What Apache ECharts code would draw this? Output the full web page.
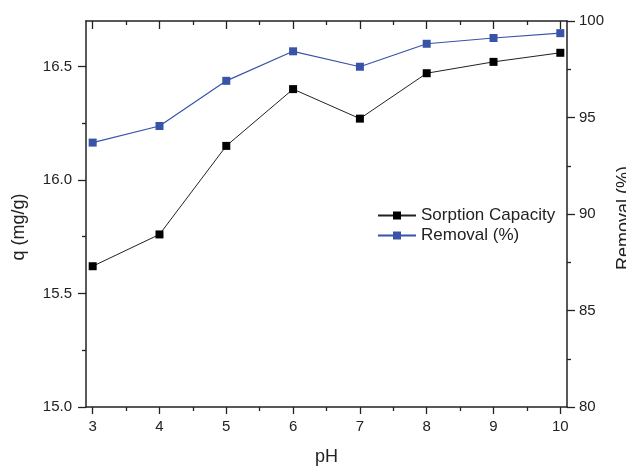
<!DOCTYPE html>
<html>
<head>
<meta charset="utf-8">
<title>Effect of pH on sorption</title>
<script src="https://cdn.jsdelivr.net/npm/echarts@6/dist/echarts.min.js"></script>
<style>
  html, body { margin: 0; padding: 0; background: #fff; }
  #chart { width: 626px; height: 467px; }
</style>
</head>
<body>
<div id="chart"></div>
<script>
// Measured data: sorption capacity and removal efficiency versus pH
const phValues = [3, 4, 5, 6, 7, 8, 9, 10];
const sorptionCapacity = [15.62, 15.76, 16.15, 16.40, 16.27, 16.47, 16.52, 16.56];
const removalPercent = [93.70, 94.56, 96.90, 98.43, 97.63, 98.82, 99.12, 99.37];

// Tick positions
const xMajorTicks = [3, 4, 5, 6, 7, 8, 9, 10];
const xMinorTicks = [3.5, 4.5, 5.5, 6.5, 7.5, 8.5, 9.5];
const qMajorTicks = [15.0, 15.5, 16.0, 16.5];
const qMinorTicks = [15.25, 15.75, 16.25];

const INK = '#222';
const BLUE = '#3953a8';
const FONT = 'Liberation Sans, Arial, sans-serif';

const chart = echarts.init(document.getElementById('chart'), null, { renderer: 'canvas' });

const xRange = { min: 2.9, max: 10.1 };
const qRange = { min: 15.0, max: 16.7 };

function tickOnlyX(position, values, length, inside) {
  return {
    type: 'value', position: position, ...xRange,
    axisLine: { show: false },
    axisLabel: { show: false },
    splitLine: { show: false },
    axisTick: { show: true, inside: inside, length: length, customValues: values,
                lineStyle: { color: INK, width: 1.3 } }
  };
}

const option = {
  animation: false,
  backgroundColor: '#fff',
  grid: { left: 86, right: 59, top: 21, bottom: 60, outerBoundsMode: 'none', containLabel: false },
  legend: {
    orient: 'vertical',
    left: 377, top: 207, padding: 0,
    itemWidth: 38, itemHeight: 10, itemGap: 3,
    textStyle: { fontFamily: FONT, fontSize: 17, color: INK },
    data: ['Sorption Capacity', 'Removal (%)']
  },
  xAxis: [
    {
      type: 'value', position: 'bottom', ...xRange,
      name: 'pH', nameLocation: 'middle', nameGap: 41,
      nameTextStyle: { fontFamily: FONT, fontSize: 18, color: INK },
      axisLine: { show: true, onZero: false, lineStyle: { color: INK, width: 1.5 } },
      axisTick: { show: true, length: 7, customValues: xMajorTicks, lineStyle: { color: INK, width: 1.3 } },
      axisLabel: { show: true, margin: 12, customValues: xMajorTicks,
                   fontFamily: FONT, fontSize: 15, color: INK },
      splitLine: { show: false }
    },
    tickOnlyX('bottom', xMinorTicks, 4, false),
    {
      type: 'value', position: 'top', ...xRange,
      axisLine: { show: true, onZero: false, lineStyle: { color: INK, width: 1.5 } },
      axisTick: { show: true, inside: true, length: 8, customValues: xMajorTicks,
                  lineStyle: { color: INK, width: 1.3 } },
      axisLabel: { show: false },
      splitLine: { show: false }
    },
    tickOnlyX('top', xMinorTicks, 4, true)
  ],
  yAxis: [
    {
      type: 'value', position: 'left', ...qRange,
      name: 'q (mg/g)', nameLocation: 'middle', nameGap: 58,
      nameTextStyle: { fontFamily: FONT, fontSize: 18, color: INK, padding: [0, 26, 0, 0] },
      axisLine: { show: true, onZero: false, lineStyle: { color: INK, width: 1.5 } },
      axisTick: { show: true, length: 8, customValues: qMajorTicks, lineStyle: { color: INK, width: 1.3 } },
      axisLabel: { show: true, margin: 14, customValues: qMajorTicks,
                   formatter: v => v.toFixed(1),
                   fontFamily: FONT, fontSize: 15, color: INK },
      splitLine: { show: false }
    },
    {
      type: 'value', position: 'left', ...qRange,
      axisLine: { show: false },
      axisLabel: { show: false },
      splitLine: { show: false },
      axisTick: { show: true, length: 4, customValues: qMinorTicks, lineStyle: { color: INK, width: 1.3 } }
    },
    {
      type: 'value', position: 'right', min: 80, max: 100, interval: 5,
      name: 'Removal (%)', nameLocation: 'middle', nameGap: 45,
      nameTextStyle: { fontFamily: FONT, fontSize: 18, color: INK, padding: [0, 8, 0, 0] },
      axisLine: { show: true, onZero: false, lineStyle: { color: INK, width: 1.5 } },
      axisTick: { show: true, length: 8, lineStyle: { color: INK, width: 1.3 } },
      minorTick: { show: true, splitNumber: 2, length: 4, lineStyle: { color: INK, width: 1.3 } },
      axisLabel: { show: true, margin: 12, fontFamily: FONT, fontSize: 15, color: INK },
      splitLine: { show: false }, minorSplitLine: { show: false }
    }
  ],
  series: [
    {
      name: 'Sorption Capacity',
      type: 'line', xAxisIndex: 0, yAxisIndex: 0,
      data: phValues.map((x, i) => [x, sorptionCapacity[i]]),
      symbol: 'rect', symbolSize: 8,
      itemStyle: { color: '#000' },
      lineStyle: { color: '#222', width: 1 }
    },
    {
      name: 'Removal (%)',
      type: 'line', xAxisIndex: 0, yAxisIndex: 2,
      data: phValues.map((x, i) => [x, removalPercent[i]]),
      symbol: 'rect', symbolSize: 8,
      itemStyle: { color: BLUE },
      lineStyle: { color: BLUE, width: 1.2 }
    }
  ]
};

chart.setOption(option);
</script>
</body>
</html>
